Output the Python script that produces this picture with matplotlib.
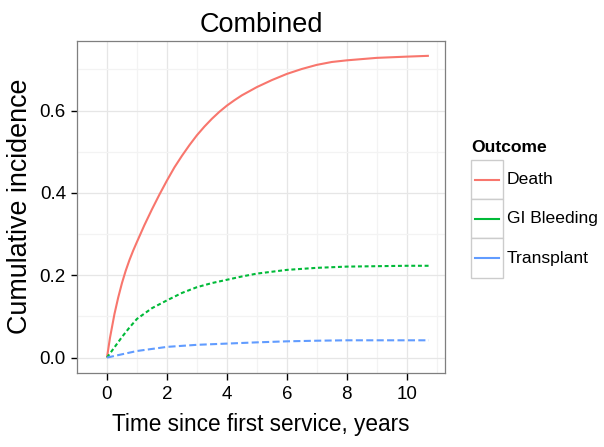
import matplotlib
matplotlib.use('Agg')
import matplotlib.pyplot as plt
from matplotlib.patches import Rectangle

# Valores
death_x = [0, 0.1, 0.25, 0.375, 0.5, 0.625, 0.75, 0.875, 1, 1.25, 1.5, 1.75,
           2, 2.25, 2.5, 2.75, 3, 3.25, 3.5, 3.75, 4, 4.25, 4.5, 5, 5.5, 6,
           6.5, 7, 7.5, 8, 9, 10, 10.74]
death_y = [0, 0.048, 0.106, 0.146, 0.181, 0.211, 0.237, 0.26, 0.281, 0.322,
           0.36, 0.396, 0.43, 0.462, 0.49, 0.516, 0.54, 0.561, 0.58, 0.597,
           0.612, 0.625, 0.637, 0.657, 0.674, 0.689, 0.701, 0.711, 0.718,
           0.722, 0.728, 0.731, 0.733]

gi_x = [0, 0.25, 0.5, 0.75, 1, 1.5, 2, 2.5, 3, 3.5, 4, 4.5, 5, 6, 7, 8, 9,
        10, 10.74]
gi_y = [0, 0.025, 0.05, 0.073, 0.094, 0.12, 0.139, 0.157, 0.171, 0.181,
        0.189, 0.197, 0.204, 0.213, 0.218, 0.221, 0.222, 0.223, 0.223]

tx_x = [0, 0.5, 1, 1.5, 2, 3, 4, 5, 6, 7, 8, 9, 10, 10.74]
tx_y = [0, 0.008, 0.016, 0.021, 0.026, 0.031, 0.034, 0.037, 0.0395, 0.041,
        0.042, 0.042, 0.042, 0.042]

outcomes = ['Death', 'GI Bleeding', 'Transplant']
colors = ['#F8766D', '#00BA38', '#619CFF']

xticks = [0, 2, 4, 6, 8, 10]
yticks = [0.0, 0.2, 0.4, 0.6]

plt.rcParams['font.family'] = ['Liberation Sans', 'DejaVu Sans']

W, H = 604, 447
fig = plt.figure(figsize=(W / 100, H / 100), dpi=100)
ax = fig.add_axes([77 / W, 1 - 372.7 / H, (445 - 77) / W, (372.7 - 40.7) / H])

ax.plot(death_x, death_y, color=colors[0], lw=1.5, solid_capstyle='butt')
ax.plot(gi_x, gi_y, color=colors[1], lw=1.5, dashes=(1.9, 1.3))
ax.plot(tx_x, tx_y, color=colors[2], lw=1.5, dashes=(3.4, 1.6))

ax.set_xlim(-0.537, 11.277)
ax.set_ylim(-0.0367, 0.7697)
ax.set_xticks(xticks)
ax.set_yticks(yticks)
ax.set_xticklabels([str(t) for t in xticks])
ax.set_yticklabels(['%.1f' % t for t in yticks])
ax.set_xticks([-1, 1, 3, 5, 7, 9, 11], minor=True)
ax.set_yticks([0.1, 0.3, 0.5, 0.7], minor=True)

ax.grid(True, which='major', color='#E6E6E6', lw=0.9)
ax.grid(True, which='minor', color='#F3F3F3', lw=0.9)
ax.set_axisbelow(True)
for s in ax.spines.values():
    s.set_color('#7F7F7F')
    s.set_linewidth(0.9)

ax.tick_params(axis='x', which='major', length=5, width=1, color='black',
               labelsize=13.5, pad=4.5, labelcolor='black')
ax.tick_params(axis='y', which='major', length=4.5, width=1, color='black',
               labelsize=13.5, pad=3.5, labelcolor='black')
ax.tick_params(which='minor', length=0)

ax.set_title('Combined', fontsize=19.5, pad=6.5)
ax.set_xlabel('Time since first service, years', fontsize=16.3, labelpad=7)
ax.set_ylabel('Cumulative incidence', fontsize=19.4)
ax.yaxis.set_label_coords(-0.12, 0.5)

# Legenda desenhada à mão (estilo ggplot)
lax = fig.add_axes([470.7 / W, 1 - 277.7 / H, 32 / W, 117.7 / H])
lax.set_xlim(0, 1)
lax.set_ylim(0, 3)
lax.axis('off')
for i, (name, c) in enumerate(zip(outcomes, colors)):
    yb = 2 - i
    lax.add_patch(Rectangle((0, yb), 1, 1, facecolor='white',
                            edgecolor='#CCCCCC', lw=1, clip_on=False))
    lax.plot([0.13, 0.88], [yb + 0.5, yb + 0.5], color=c, lw=1.5,
             clip_on=False)
    lax.text(1.13, yb + 0.5, name, fontsize=12.6, va='center', ha='left')
lax.text(0.03, 3.2, 'Outcome', fontsize=12.6, fontweight='bold',
         va='baseline', ha='left')

fig.savefig('out.png', dpi=100)
